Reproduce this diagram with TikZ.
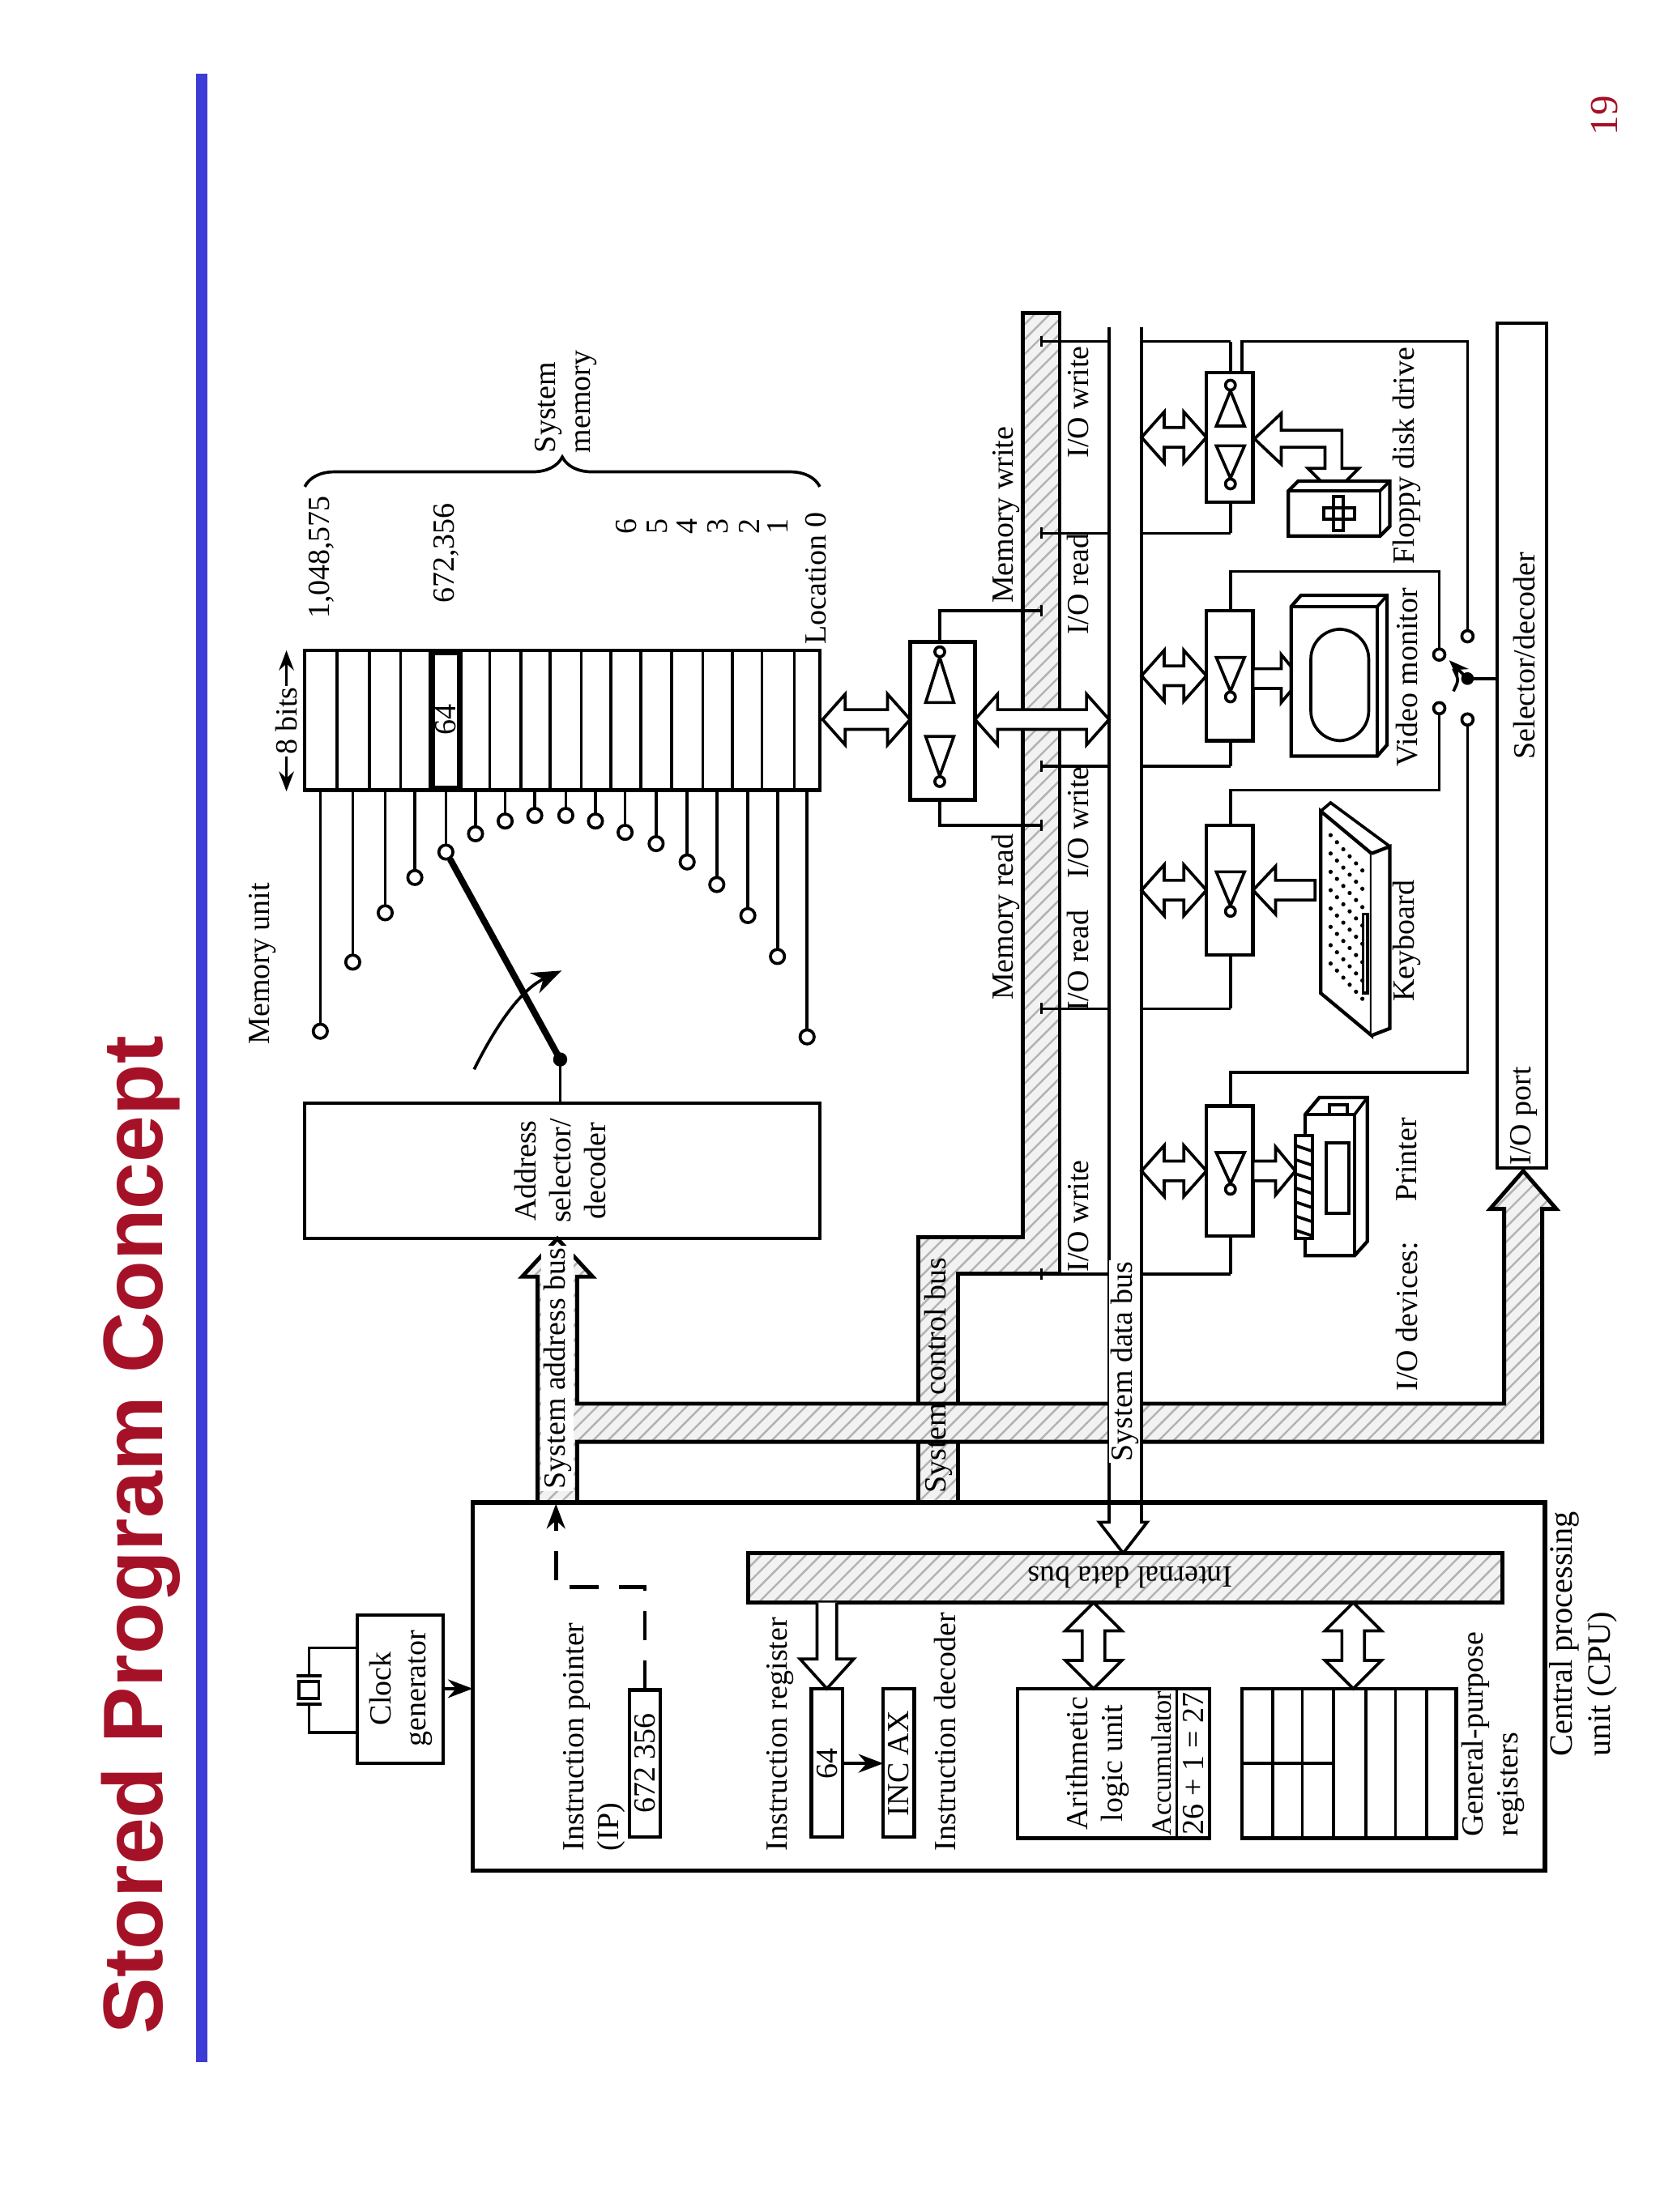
\documentclass[tikz,border=0pt]{standalone}
\usepackage{fontspec}
\setmainfont{Liberation Serif}
\newfontfamily\titlefont{Liberation Sans}
\usetikzlibrary{patterns,decorations.pathreplacing,arrows.meta}
\definecolor{titlered}{RGB}{165,18,40}
\definecolor{lineblue}{RGB}{60,60,215}
% horizontal double hollow arrow a<b at c
\newcommand{\DAH}[3]{\draw[harrow] (#1,#3)--({#1+16},{#3-18})--({#1+16},{#3-7})--({#2-16},{#3-7})--({#2-16},{#3-18})--(#2,#3)--({#2-16},{#3+18})--({#2-16},{#3+7})--({#1+16},{#3+7})--({#1+16},{#3+18})--cycle;}
% vertical double hollow arrow a<b at x c
\newcommand{\DAV}[3]{\draw[harrow] (#3,#1)--({#3-20},{#1+20})--({#3-8},{#1+20})--({#3-8},{#2-20})--({#3-20},{#2-20})--(#3,#2)--({#3+20},{#2-20})--({#3+8},{#2-20})--({#3+8},{#1+20})--({#3+20},{#1+20})--cycle;}
% single horizontal arrow from a to tip b at c, L signed head length
\newcommand{\SAH}[4]{\draw[harrow] (#1,{#3-7})--({#2-#4},{#3-7})--({#2-#4},{#3-17})--(#2,#3)--({#2-#4},{#3+17})--({#2-#4},{#3+7})--(#1,{#3+7})--cycle;}
\begin{document}
\begin{tikzpicture}[x=0.01cm,y=-0.01cm,line width=0.6pt,
  lab/.style={rotate=90,font=\fontsize{6.2}{7}\selectfont,inner sep=0pt},
  harrow/.style={fill=white,draw,line width=0.6pt},
  bus/.style={draw,line width=0.8pt,preaction={fill=gray!10},pattern=north east lines,pattern color=gray!60},
  box/.style={draw,line width=0.7pt},
  cir/.style={draw,fill=white,line width=0.6pt}]
\useasboundingbox (0,0) rectangle (1176,1568);
\fill[white] (0,0) rectangle (1176,1568);
% title
\node[rotate=90,text=titlered,font=\titlefont\bfseries\fontsize{17}{18}\selectfont] (title) at (100,1088) {Stored Program Concept};
\draw[lineblue,line width=2.2pt] (143,52) -- (143,1462);
\node[rotate=90,text=titlered,font=\fontsize{8}{9}\selectfont] (pg) at (1137,82) {19};

% ===== memory =====
\node[lab] (mu) at (186,683) {Memory unit};
\node[lab] (bits) at (203,511) {8 bits};
\draw[-{Stealth[length=4pt]}] (203,486) -- (203,461);
\draw[-{Stealth[length=4pt]}] (203,536) -- (203,561);
\draw[box] (216,461) rectangle (581,560);
\foreach \xx in {239,262,284,305,327,347,369,390,412,433,454,476,498,519,540,563} \draw (\xx,461) -- (\xx,560);
\draw[box] (307,463) rectangle (325,558);
\node[lab] (m64) at (316,510) {64};
\foreach \xx/\yy in {227/731,250/682,273/647,294/622,316/604,337/591,358/582,379/578,401/578,422/582,443/590,465/598,487/611,508/627,530/649,551/678,572/735}
  {\draw (\xx,560) -- (\xx,{\yy-5}); \draw[cir] (\xx,\yy) circle (5);}
\node[lab] (a1) at (228,395) {1,048,575};
\node[lab] (a2) at (316,392) {672,356};
\foreach \xx/\tt in {444/6,466/5,487/4,509/3,531/2,551/1} \node[lab] at (\xx,373) {\tt};
\node[lab] (loc) at (578,410) {Location 0};
\draw[decorate,decoration={brace,amplitude=6pt},line width=0.6pt] (216,345) -- (581,345);
\node[lab,align=left,anchor=west] (sysm) at (401,322) {System\\memory};
% switch arm
\draw[line width=1.3pt] (319,609) -- (397,751);
\fill (397,751) circle (5);
\draw[-{Stealth[length=6pt]}] (336,758) .. controls (355,720) and (372,700) .. (398,688);
\draw[box] (216,782) rectangle (581,878);
\node[lab,align=center] (asd) at (397,830) {Address\\selector/\\decoder};
\draw (397,751) -- (397,782);

% ===== buses =====
\draw[bus] (651,1065) -- (651,877) -- (725,877) -- (725,222) -- (751,222) -- (751,903) -- (679,903) -- (679,1065);
\draw[bus] (381,1065) -- (381,905) -- (370,905) -- (395,878) -- (420,905) -- (409,905) -- (409,995) -- (1066,995) -- (1066,857) -- (1056,857) -- (1079.5,830) -- (1103,857) -- (1093,857) -- (1093,1022) -- (409,1022) -- (409,1065);
\node[lab,fill=white,inner sep=0.5pt] (sab) at (395,970) {System address bus};
\node[lab] (scb) at (665,975) {System control bus};
\draw (786,232) -- (786,1079) -- (779,1079) -- (796,1101) -- (813,1079) -- (809,1079) -- (809,232);
\node[lab,fill=white,inner sep=0.3pt] (sdb) at (797,965) {System data bus};

% memory buffer
\DAH{583}{645}{510}
\DAH{691}{786}{510}
\draw[box,fill=white] (645,455) rectangle (691,567);
\draw (656,498) -- (676,498) -- (666,466) -- cycle; \draw[cir] (666,462) circle (3.5);
\draw (656,522) -- (676,522) -- (666,550) -- cycle; \draw[cir] (666,554) circle (3.5);
\draw (666,455) -- (666,433) -- (738,433); \draw (738,429) -- (738,437);
\draw (666,567) -- (666,585) -- (738,585); \draw (738,581) -- (738,589);
\node[lab] (mw) at (713,365) {Memory write};
\node[lab] (mr) at (713,650) {Memory read};

\foreach \yy in {242,378,543,715,903} {\draw (738,\yy) -- (786,\yy); \draw (738,{\yy-4}) -- (738,{\yy+4}); \draw (809,\yy) -- (872,\yy);}
\node[lab] at (764,285) {I/O write};
\node[lab] at (764,414) {I/O read};
\node[lab] at (764,583) {I/O write};
\node[lab] at (764,681) {I/O read};
\node[lab] at (764,862) {I/O write};

\DAH{809}{855}{310}
\DAH{809}{855}{479}
\DAH{809}{855}{631}
\DAH{809}{855}{830}
% floppy
\draw[box,fill=white] (855,264) rectangle (888,356);
\draw (862,302) -- (882,302) -- (872,277) -- cycle; \draw[cir] (872,273) circle (3.5);
\draw (862,316) -- (882,316) -- (872,339) -- cycle; \draw[cir] (872,343) circle (3.5);
\draw (872,264) -- (872,242);
\draw (880,264) -- (880,242) -- (1040,242) -- (1040,447);
\draw (872,356) -- (872,378);
% monitor
\draw[box,fill=white] (855,433) rectangle (888,525);
\draw (862,466) -- (882,466) -- (872,490) -- cycle; \draw[cir] (872,494) circle (3.5);
\draw (872,433) -- (872,405) -- (1020,405) -- (1020,460);
\draw (872,525) -- (872,543);
% keyboard
\draw[box,fill=white] (855,585) rectangle (888,677);
\draw (862,618) -- (882,618) -- (872,642) -- cycle; \draw[cir] (872,646) circle (3.5);
\draw (872,585) -- (872,560) -- (1020,560) -- (1020,506);
\draw (872,677) -- (872,715);
% printer
\draw[box,fill=white] (855,784) rectangle (888,876);
\draw (862,817) -- (882,817) -- (872,839) -- cycle; \draw[cir] (872,843) circle (3.5);
\draw (872,784) -- (872,760) -- (1040,760) -- (1040,514);
\draw (872,876) -- (872,903);

% switch
\foreach \xx/\yy in {1020/464,1040/451,1020/502,1040/510} \draw[cir] (\xx,\yy) circle (4);
\fill (1040,481) circle (4.5);
\draw (1040,481) -- (1061,481);
\draw[-{Stealth[length=4pt]}] (1040,481) -- (1027,468);
\draw (1030,490) .. controls (1034,482) .. (1030,474);
\draw[box] (1061,229) rectangle (1096,828);
\node[lab] (sel) at (1080,465) {Selector/decoder};
\node[lab] (iop) at (1080,791) {I/O port};

\SAH{888}{922}{481}{14}
\SAH{932}{888}{631}{-16}
\SAH{888}{918}{830}{14}
\draw[harrow] (889,311)--(908,293)--(908,305)--(951,305)--(951,332)--(963,332)--(945,350)--(927,332)--(939,332)--(939,317)--(908,317)--(908,329)--cycle;

% floppy drive icon
\draw[box,fill=white] (913,348) -- (920,341) -- (985,341) -- (985,373) -- (978,380) -- (913,380) -- cycle;
\draw (978,348) -- (978,380); \draw (913,348) -- (978,348); \draw (978,348) -- (985,341);
\draw (945,352) rectangle (952,376); \draw (938,360) rectangle (960,368);
% monitor icon
\draw[box,fill=white] (915,430) -- (922,422) -- (983,422) -- (983,528) -- (976,536) -- (915,536) -- cycle;
\draw (915,430) -- (976,430) -- (976,536); \draw (976,430) -- (983,422);
\draw[rounded corners=6pt] (929,446) rectangle (970,525);
% keyboard icon
\draw[box,fill=white] (936,575) -- (972,605) -- (972,734) -- (936,704) -- cycle;
\draw[box,fill=white] (972,605) -- (985,600) -- (985,729) -- (972,734);
\draw (936,575) -- (943,569) -- (985,600);
\foreach \i in {0,...,5} \foreach \j in {0,...,7} \fill ({943+\i*4.5},{592+\j*13+\i*5}) circle (1.5);
\draw (966,648) rectangle (969,704);
% printer icon
\draw[box,fill=white] (925,790) -- (935,778) -- (969,778) -- (969,880) -- (960,890) -- (925,890) -- cycle;
\draw (925,790) -- (960,790) -- (960,890); \draw (960,790) -- (969,778);
\draw (942,783) rectangle (955,790);
\draw (940,810) rectangle (956,860);
\draw[fill=white] (918,805) rectangle (930,878);
\foreach \yy in {812,822,...,872} \draw (918,\yy) -- (930,{\yy+4});

\node[lab] at (997,323) {Floppy disk drive};
\node[lab] at (997,480) {Video monitor};
\node[lab] at (997,667) {Keyboard};
\node[lab] at (997,822) {Printer};
\node[lab] at (997,933) {I/O devices:};

% ===== CPU =====
\draw[box,line width=0.9pt] (335,1065) rectangle (1095,1326);
\draw[box] (253,1145) rectangle (314,1250);
\node[lab,align=center] (clk) at (284,1197) {Clock\\generator};
\draw[-{Stealth[length=5pt]}] (314,1197) -- (335,1197);
\draw (253,1168) -- (219,1168) -- (219,1188); \draw (210,1188) -- (228,1188);
\draw (212,1192) rectangle (226,1204);
\draw (210,1208) -- (228,1208); \draw (219,1208) -- (219,1228) -- (253,1228);
\node[lab,anchor=west,align=left] (ip) at (421,1313) {Instruction pointer\\(IP)};
\draw[box] (446,1198) rectangle (468,1302);
\node[lab] at (457,1250) {672 356};
\draw[line width=0.8pt,dash pattern=on 6pt off 4pt] (457,1198) -- (457,1125) -- (394,1125) -- (394,1078);
\draw[-{Stealth[length=5pt]}] (394,1080) -- (394,1066);
\draw[bus] (530,1101) rectangle (1065,1136);
\node[rotate=180,font=\fontsize{6.2}{7}\selectfont,inner sep=0pt] (idb) at (801,1118) {Internal data bus};
\draw[harrow] (579,1136) -- (579,1176) -- (567,1176) -- (586,1197) -- (605,1176) -- (593,1176) -- (593,1136);
\node[lab,anchor=west] (ir) at (553,1313) {Instruction register};
\draw[box] (575,1197) rectangle (597,1302);
\node[lab] at (586,1250) {64};
\draw[-{Stealth[length=5pt]}] (597,1250) -- (626,1250);
\draw[box] (626,1197) rectangle (648,1302);
\node[lab] at (637,1250) {INC AX};
\node[lab,anchor=west] (id) at (670,1313) {Instruction decoder};
\DAV{1136}{1197}{775}
\draw[box] (721,1197) rectangle (857,1303);
\draw (834,1197) -- (834,1303);
\node[lab,align=center] (alu) at (778,1250) {Arithmetic\\logic unit};
\node[lab,font=\fontsize{5.6}{6}\selectfont] at (823,1250) {Accumulator};
\node[lab] at (846,1250) {26 + 1 = 27};
\DAV{1136}{1197}{959}
\draw[box] (880,1197) rectangle (1032,1303);
\foreach \xx in {902,923,945,968,989,1011} \draw (\xx,1197) -- (\xx,1303);
\draw (880,1250) -- (945,1250);
\node[lab,anchor=west,align=left] (gpr) at (1058,1303) {General-purpose\\registers};
\node[lab,anchor=west,align=left,font=\fontsize{6.6}{7.6}\selectfont] (cpu) at (1122,1246) {Central processing\\unit (CPU)};
\end{tikzpicture}
\end{document}
